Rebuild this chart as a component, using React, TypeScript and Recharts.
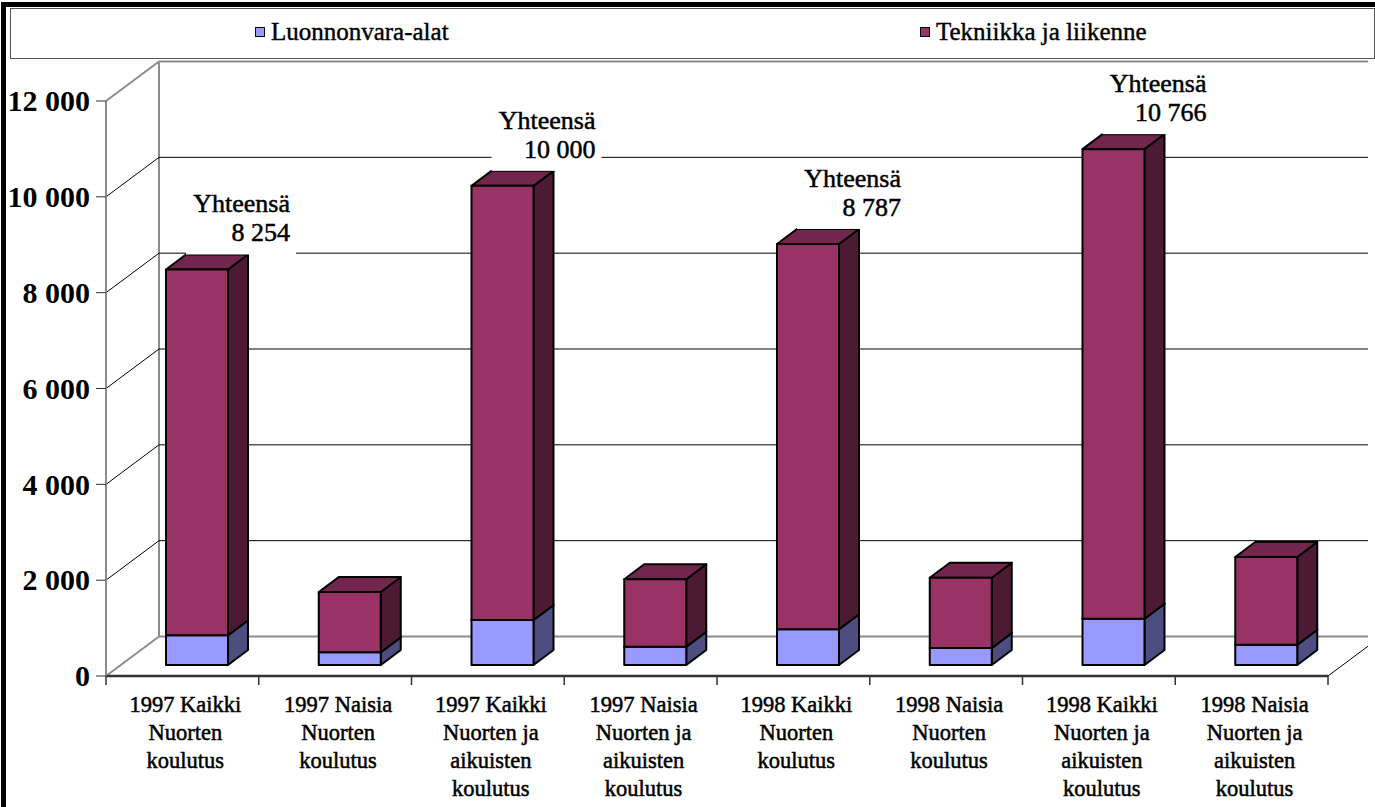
import React from 'react';
import { BarChart, Bar, XAxis, YAxis, CartesianGrid, Legend, LabelList } from 'recharts';

// categories as printed under the axis (line breaks kept)
const categories = [
  '1997 Kaikki\nNuorten\nkoulutus',
  '1997 Naisia\nNuorten\nkoulutus',
  '1997 Kaikki\nNuorten ja\naikuisten\nkoulutus',
  '1997 Naisia\nNuorten ja\naikuisten\nkoulutus',
  '1998 Kaikki\nNuorten\nkoulutus',
  '1998 Naisia\nNuorten\nkoulutus',
  '1998 Kaikki\nNuorten ja\naikuisten\nkoulutus',
  '1998 Naisia\nNuorten ja\naikuisten\nkoulutus',
];
const luonnonvara = [620, 265, 940, 382, 745, 355, 966, 424];
const tekniikka = [7634, 1259, 9060, 1407, 8042, 1467, 9800, 1830];
const yTicks = [0, 2000, 4000, 6000, 8000, 10000, 12000];

const data = categories.map((name, i) => ({
  name,
  lu: luonnonvara[i],
  te: tekniikka[i],
  total: name.includes('Kaikki') ? luonnonvara[i] + tekniikka[i] : null,
}));

const CHART_W = 1368;
const CHART_H = 807;
const Y_W = 106;
const X_H = 131;
const MARGIN = { top: 101, right: 40, left: 0, bottom: 0 };
const BAND = (CHART_W - Y_W - MARGIN.right) / categories.length;

// 3d projection offsets
const DX = 53, DY = -39.5; // wall depth
const OX = 15, OY = -11; // front plane of the bars
const BX = 20, BY = -15; // bar depth

const FONT = '"Liberation Serif", "Times New Roman", serif';
const fmt = (v: number) => String(v).replace(/\B(?=(\d{3})+(?!\d))/g, ' ');

function Box3D(props: any) {
  const { x, y, width, height, front, side, top } = props;
  if (x == null || y == null || !width || !height) return null;
  const fx = x + OX, fy = y + OY;
  return (
    <g stroke="#000" strokeWidth={2} strokeLinejoin="round">
      <polygon points={`${fx + width},${fy} ${fx + width + BX},${fy + BY} ${fx + width + BX},${fy + height + BY} ${fx + width},${fy + height}`} fill={side} />
      <polygon points={`${fx},${fy} ${fx + BX},${fy + BY} ${fx + width + BX},${fy + BY} ${fx + width},${fy}`} fill={top} />
      <rect x={fx} y={fy} width={width} height={height} fill={front} />
    </g>
  );
}

function WallLine(props: any) {
  const { x1, x2, y1, y, height } = props;
  const isBottom = Math.abs(y1 - (y + height)) < 1;
  const isTop = Math.abs(y1 - y) < 1;
  const edge = isBottom || isTop;
  const stroke = edge ? '#8c8c8c' : '#000';
  const sw = edge ? 2 : 1;
  return (
    <g>
      <line x1={x1} y1={y1} x2={x1 + DX} y2={y1 + DY} stroke={stroke} strokeWidth={sw} />
      <line x1={x1 + DX} y1={y1 + DY} x2={x2 + DX} y2={y1 + DY} stroke={stroke} strokeWidth={sw} />
      {isBottom && <line x1={x2} y1={y1} x2={x2 + DX} y2={y1 + DY} stroke="#000" strokeWidth={1} />}
      {isBottom && <line x1={x1 + DX} y1={y1 + DY} x2={x1 + DX} y2={y1 + DY - height} stroke="#8c8c8c" strokeWidth={2} />}
    </g>
  );
}

function ValTick(props: any) {
  const { x, y, payload } = props;
  return (
    <text x={x} y={y} dy="0.34em" textAnchor="end" fontFamily={FONT} fontWeight="bold" fontSize={30} fill="#000">
      {fmt(payload.value)}
    </text>
  );
}

function CatTick(props: any) {
  const { x, y, payload, index } = props;
  const lines = String(payload.value).split('\n');
  const half = BAND / 2;
  return (
    <g>
      <line x1={x - half} y1={y} x2={x - half} y2={y + 9} stroke="#333" strokeWidth={1.5} />
      {index === categories.length - 1 && <line x1={x + half} y1={y} x2={x + half} y2={y + 9} stroke="#333" strokeWidth={1.5} />}
      <text x={x + 3} y={y + 36} textAnchor="middle" fontFamily={FONT} fontSize={22.5} fill="#000" stroke="#000" strokeWidth={0.5}>
        {lines.map((l, i) => (
          <tspan key={i} x={x + 3} dy={i === 0 ? 0 : 28}>{l}</tspan>
        ))}
      </text>
    </g>
  );
}

function TotalLabel(props: any) {
  const vb = props.viewBox || {};
  const x = vb.x ?? props.x;
  const y = vb.y ?? props.y;
  const width = vb.width ?? props.width;
  const { value } = props;
  if (value == null || x == null) return null;
  const right = x + OX + 2 * width;
  const b1 = y + OY - 57;
  const b2 = y + OY - 28;
  return (
    <g>
      <rect x={right - 104} y={b1 - 24} width={110} height={b2 - b1 + 37} fill="#fff" />
      <text x={right} y={b1} textAnchor="end" fontFamily={FONT} fontSize={26} fill="#000" stroke="#000" strokeWidth={0.5}>Yhteensä</text>
      <text x={right} y={b2} textAnchor="end" fontFamily={FONT} fontSize={26} fill="#000" stroke="#000" strokeWidth={0.5}>{fmt(value)}</text>
    </g>
  );
}

function LegendBox(props: any) {
  const items = props.payload || [];
  return (
    <div style={{ display: 'flex', width: '100%', height: '100%', border: '1px solid #555', boxSizing: 'border-box', background: '#fff' }}>
      {items.map((it: any) => (
        <div key={it.value} style={{ flex: 1, display: 'flex', alignItems: 'center', justifyContent: 'center', fontFamily: FONT, fontSize: 25, color: '#000', WebkitTextStroke: '0.4px #000', paddingBottom: 4 }}>
          <span style={{ width: 8, height: 8, background: it.color, border: '1.5px solid #000', marginRight: 6, display: 'inline-block' }} />
          {it.value}
        </div>
      ))}
    </div>
  );
}

export default function App() {
  return (
    <div style={{ position: 'fixed', left: 0, top: 0, width: 1375, height: 807, background: '#fff', overflow: 'hidden' }}>
      <BarChart width={CHART_W} height={CHART_H} data={data} margin={MARGIN}>
        <CartesianGrid vertical={false} horizontal={(p: any) => <WallLine key={p.key} {...p} />} />
        <XAxis dataKey="name" height={X_H} interval={0} tickLine={false} tickSize={0} tickMargin={0}
          axisLine={{ stroke: '#333', strokeWidth: 2.5 }} tick={<CatTick />} />
        <YAxis domain={[0, 12000]} ticks={yTicks} interval={0} width={Y_W} tickSize={10} tickMargin={6}
          axisLine={{ stroke: '#8c8c8c', strokeWidth: 2 }} tickLine={{ stroke: '#333' }} tick={<ValTick />} />
        <Legend layout="horizontal" verticalAlign="middle" align="center" width={1365} height={51}
          wrapperStyle={{ position: 'absolute', top: 8, left: 10, width: 1365, height: 51 }} content={<LegendBox />} />
        <Bar dataKey="lu" name="Luonnonvara-alat" stackId="a" barSize={62} fill="#9999ff" isAnimationActive={false}
          shape={(p: any) => <Box3D {...p} front="#9999ff" side="#4d4d80" top="#7373bf" />} />
        <Bar dataKey="te" name="Tekniikka ja liikenne" stackId="a" barSize={62} fill="#993366" isAnimationActive={false}
          shape={(p: any) => <Box3D {...p} front="#993366" side="#4d1a33" top="#73264d" />}>
          <LabelList dataKey="total" content={<TotalLabel />} />
        </Bar>
      </BarChart>
      <div style={{ position: 'absolute', left: 1, top: 2, width: 1400, height: 900, borderLeft: '5px solid #000', borderTop: '5px solid #000', pointerEvents: 'none' }} />
    </div>
  );
}
